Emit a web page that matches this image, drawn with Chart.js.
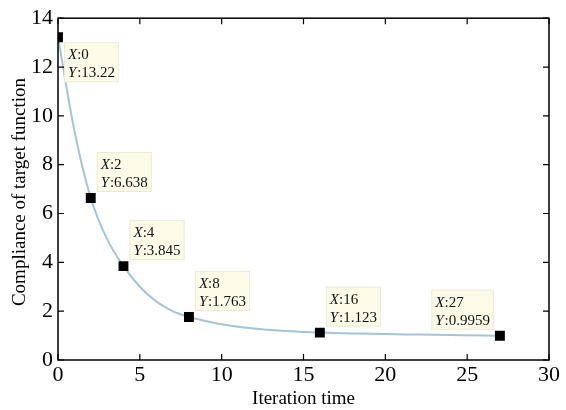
<!DOCTYPE html>
<html>
<head>
<meta charset="utf-8">
<script src="https://cdn.jsdelivr.net/npm/chart.js@4"></script>
<style>
  html, body { margin: 0; padding: 0; background: #fff; }
  #wrap { width: 566px; height: 410px; }
</style>
</head>
<body>
<div id="wrap"><canvas id="compChart"></canvas></div>
<script>
// curve
const iterations = [0, 1, 2, 3, 4, 5, 6, 7, 8, 9, 10, 11, 12, 13, 14, 15, 16, 18, 20, 22, 24, 26, 27];
const compliance = [13.22, 9.4, 6.638, 4.95, 3.845, 3.0, 2.4, 2.0, 1.763, 1.6, 1.46, 1.36, 1.29, 1.23, 1.19, 1.15, 1.123, 1.09, 1.06, 1.04, 1.02, 1.0, 0.9959];

// data tips
const tipX = [0, 2, 4, 8, 16, 27];
const tipY = [13.22, 6.638, 3.845, 1.763, 1.123, 0.9959];
const tipText = ['13.22', '6.638', '3.845', '1.763', '1.123', '0.9959'];

const xTicks = [0, 5, 10, 15, 20, 25, 30];
const yTicks = [0, 2, 4, 6, 8, 10, 12, 14];

const yTitle = 'Compliance of target function';

const serif = '"Liberation Serif", "Times New Roman", serif';

// inner ticks + box frame + y title
const framePlugin = {
    id: 'frame',
    afterDraw(chart) {
        const { ctx, chartArea: a, scales: { x, y } } = chart;
        ctx.save();
        ctx.strokeStyle = '#000';
        ctx.lineWidth = 1.5;
        ctx.strokeRect(a.left, a.top, a.right - a.left, a.bottom - a.top);
        ctx.lineWidth = 1.2;
        ctx.beginPath();
        xTicks.forEach(v => {
            const px = x.getPixelForValue(v);
            ctx.moveTo(px, a.bottom); ctx.lineTo(px, a.bottom - 6);
            ctx.moveTo(px, a.top); ctx.lineTo(px, a.top + 6);
        });
        yTicks.forEach(v => {
            const py = y.getPixelForValue(v);
            ctx.moveTo(a.left, py); ctx.lineTo(a.left + 6, py);
            ctx.moveTo(a.right, py); ctx.lineTo(a.right - 6, py);
        });
        ctx.stroke();

        ctx.translate(20, 192);
        ctx.rotate(-Math.PI / 2);
        ctx.fillStyle = '#000';
        ctx.font = '19px ' + serif;
        ctx.textAlign = 'center';
        ctx.textBaseline = 'middle';
        ctx.fillText(yTitle, 0, 0);
        ctx.restore();
    }
};

// data tip boxes
const tipPlugin = {
    id: 'tips',
    afterDatasetsDraw(chart) {
        const { ctx, scales: { x, y } } = chart;
        const place = ['br', 'tr', 'tr', 'tr', 'tr', 'tl'];
        ctx.save();
        tipX.forEach((xv, i) => {
            const px = x.getPixelForValue(xv);
            const py = y.getPixelForValue(tipY[i]);
            ctx.font = '15px ' + serif;
            const w1 = ctx.measureText(':' + xv).width;
            const w2 = ctx.measureText(':' + tipText[i]).width;
            ctx.font = 'italic 15px ' + serif;
            const wx = ctx.measureText('X').width;
            const bw = Math.max(w1, w2) + wx + 8;
            const bh = 40;
            let bx = px + 6, by = py + 5;
            if (place[i] === 'tr') { bx = px + 6; by = py - 6 - bh; }
            if (place[i] === 'tl') { bx = px - 6 - bw; by = py - 6 - bh; }
            ctx.fillStyle = '#fbfbe8';
            ctx.strokeStyle = '#ecebd6';
            ctx.lineWidth = 1;
            ctx.fillRect(bx, by, bw, bh);
            ctx.strokeRect(bx + 0.5, by + 0.5, bw - 1, bh - 1);
            ctx.fillStyle = '#111';
            ctx.textBaseline = 'alphabetic';
            ctx.font = 'italic 15px ' + serif;
            ctx.fillText('X', bx + 4, by + 17);
            ctx.fillText('Y', bx + 4, by + 35);
            ctx.font = '15px ' + serif;
            ctx.fillText(':' + xv, bx + 4 + wx, by + 17);
            ctx.fillText(':' + tipText[i], bx + 4 + wx, by + 35);
        });
        ctx.restore();
    }
};

new Chart(document.getElementById('compChart').getContext('2d'), {
    type: 'line',
    data: {
        datasets: [{
            data: iterations.map((v, i) => ({ x: v, y: compliance[i] })),
            borderColor: '#a3c5d8',
            borderWidth: 2,
            pointRadius: 0,
            tension: 0.4,
            cubicInterpolationMode: 'monotone',
            order: 2
        }, {
            data: tipX.map((v, i) => ({ x: v, y: tipY[i] })),
            showLine: false,
            pointStyle: 'rect',
            pointRadius: 7,
            pointBackgroundColor: '#000',
            pointBorderColor: '#000',
            pointBorderWidth: 0,
            order: 1
        }]
    },
    options: {
        responsive: true,
        maintainAspectRatio: false,
        animation: false,
        layout: { padding: { top: 18, right: 17, left: 0, bottom: 0 } },
        plugins: {
            legend: { display: false },
            tooltip: { enabled: false }
        },
        scales: {
            x: {
                type: 'linear',
                min: 0, max: 30,
                afterBuildTicks: s => { s.ticks = xTicks.map(v => ({ value: v })); },
                afterFit: s => { s.height = 50; },
                grid: { display: false, drawTicks: false, tickLength: 0 },
                border: { display: false },
                ticks: { color: '#000', font: { family: serif, size: 22 }, padding: 2, maxRotation: 0 },
                title: { display: true, text: 'Iteration time', color: '#000', font: { family: serif, size: 19 }, padding: { top: -4, bottom: 0 } }
            },
            y: {
                min: 0, max: 14,
                afterBuildTicks: s => { s.ticks = yTicks.map(v => ({ value: v })); },
                afterFit: s => { s.width = 58; },
                grid: { display: false, drawTicks: false, tickLength: 0 },
                border: { display: false },
                ticks: { color: '#000', font: { family: serif, size: 22 }, padding: 5 }
            }
        }
    },
    plugins: [framePlugin, tipPlugin]
});
</script>
</body>
</html>
